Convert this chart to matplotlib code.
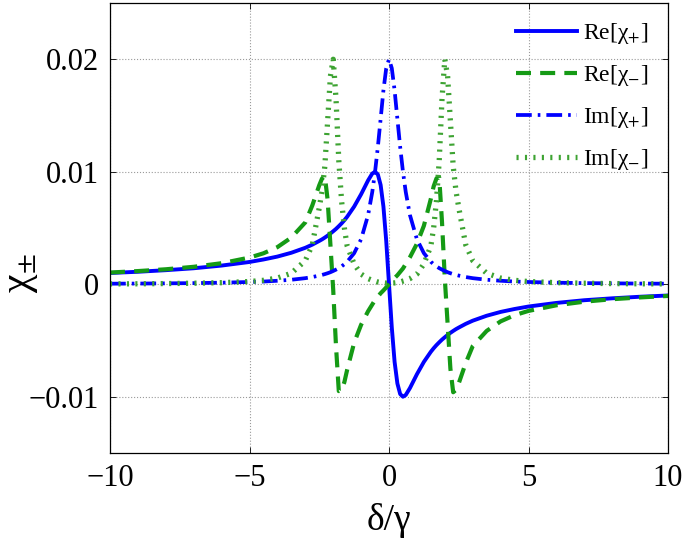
import matplotlib
matplotlib.use('Agg')
import matplotlib.pyplot as plt

# detuning grid (delta / gamma)
delta = [-10, -9, -8, -7, -6, -5, -4.5, -4, -3.5, -3, -2.75, -2.5, -2.4, -2.3,
         -2.2, -2.1, -2, -1.9, -1.8, -1.7, -1.6, -1.5, -1.25, -1, -0.75, -0.6,
         -0.5, -0.4, -0.3, -0.2, -0.1, 0, 0.1, 0.2, 0.3, 0.4, 0.5, 0.6, 0.75,
         1, 1.25, 1.5, 1.6, 1.7, 1.8, 1.9, 2, 2.1, 2.2, 2.3, 2.4, 2.5, 2.75, 3,
         3.5, 4, 4.5, 5, 6, 7, 8, 9, 10]

re_plus = [0.00100, 0.00111, 0.00125, 0.00142, 0.00166, 0.00198, 0.00220,
           0.00246, 0.00280, 0.00324, 0.00352, 0.00385, 0.00399, 0.00415,
           0.00432, 0.00451, 0.00471, 0.00492, 0.00516, 0.00541, 0.00569,
           0.00600, 0.00690, 0.00800, 0.00923, 0.00984, 0.01000, 0.00976,
           0.00882, 0.00690, 0.00385, 0.0,
           -0.00385, -0.00690, -0.00882, -0.00976, -0.01000, -0.00984,
           -0.00923, -0.00800, -0.00690, -0.00600, -0.00569, -0.00541,
           -0.00516, -0.00492, -0.00471, -0.00451, -0.00432, -0.00415,
           -0.00399, -0.00385, -0.00352, -0.00324, -0.00280, -0.00246,
           -0.00220, -0.00198, -0.00166, -0.00142, -0.00125, -0.00111, -0.00100]

re_minus = [0.00104, 0.00117, 0.00133, 0.00155, 0.00187, 0.00237, 0.00275,
            0.00330, 0.00415, 0.00550, 0.00700, 0.00880, 0.00940, 0.00960,
            0.00750, 0.00350, -0.00050, -0.00550, -0.00950, -0.00940, -0.00870,
            -0.00760, -0.00520, -0.00360, -0.00240, -0.00180, -0.00140,
            -0.00110, -0.00080, -0.00055, -0.00028, 0.0,
            0.00028, 0.00055, 0.00080, 0.00110, 0.00140, 0.00180, 0.00240,
            0.00360, 0.00520, 0.00760, 0.00870, 0.00940, 0.00950, 0.00550,
            0.00050, -0.00350, -0.00750, -0.00960, -0.00940, -0.00880,
            -0.00700, -0.00550, -0.00415, -0.00330, -0.00275, -0.00237,
            -0.00187, -0.00155, -0.00133, -0.00117, -0.00104]

im_plus = [0.00005, 0.00006, 0.00008, 0.00010, 0.00014, 0.00020, 0.00024,
           0.00031, 0.00040, 0.00054, 0.00064, 0.00077, 0.00083, 0.00090,
           0.00098, 0.00107, 0.00118, 0.00130, 0.00143, 0.00159, 0.00178,
           0.00200, 0.00276, 0.00400, 0.00615, 0.00820, 0.01000, 0.01220,
           0.01470, 0.01724, 0.01920, 0.02000,
           0.01920, 0.01724, 0.01470, 0.01220, 0.01000, 0.00820, 0.00615,
           0.00400, 0.00276, 0.00200, 0.00178, 0.00159, 0.00143, 0.00130,
           0.00118, 0.00107, 0.00098, 0.00090, 0.00083, 0.00077, 0.00064,
           0.00054, 0.00040, 0.00031, 0.00024, 0.00020, 0.00014, 0.00010,
           0.00008, 0.00006, 0.00005]

im_minus = [0.00003, 0.00004, 0.00006, 0.00009, 0.00014, 0.00024, 0.00035,
            0.00055, 0.00098, 0.00210, 0.00350, 0.00680, 0.00830, 0.01050,
            0.01450, 0.01850, 0.02000, 0.01650, 0.01100, 0.00740, 0.00500,
            0.00340, 0.00180, 0.00090, 0.00050, 0.00035, 0.00028, 0.00020,
            0.00015, 0.00012, 0.00010, 0.00010,
            0.00010, 0.00012, 0.00015, 0.00020, 0.00028, 0.00035, 0.00050,
            0.00090, 0.00180, 0.00340, 0.00500, 0.00740, 0.01100, 0.01650,
            0.02000, 0.01850, 0.01450, 0.01050, 0.00830, 0.00680, 0.00350,
            0.00210, 0.00098, 0.00055, 0.00035, 0.00024, 0.00014, 0.00009,
            0.00006, 0.00004, 0.00003]

labels = ['Re[\u03c7$_{+}$]', 'Re[\u03c7$_{-}$]', 'Im[\u03c7$_{+}$]', 'Im[\u03c7$_{-}$]']
xticks = [-10, -5, 0, 5, 10]
yticks = [-0.01, 0, 0.01, 0.02]
xticklabels = ['\u221210', '\u22125', '0', '5', '10']
yticklabels = ['\u22120.01', '0', '0.01', '0.02']

plt.rcParams['font.family'] = ['Liberation Serif', 'DejaVu Serif']
plt.rcParams['mathtext.fontset'] = 'stix'

fig = plt.figure(figsize=(6.85, 5.42), dpi=100)
ax = fig.add_axes([0.1606, 0.1642, 0.8146, 0.8303])

blue = '#0000ff'
green = '#159a15'
lgreen = '#3da332'

ax.plot(delta, re_plus, color=blue, lw=2.8, label=labels[0])
ax.plot(delta, re_minus, color=green, lw=3.0, dashes=(3.6, 2.2), label=labels[1])
ax.plot(delta, im_plus, color=blue, lw=2.7, dashes=(4.2, 1.6, 0.7, 1.6), label=labels[2])
ax.plot(delta, im_minus, color=lgreen, lw=3.8, dashes=(0.4, 1.2), label=labels[3])

ax.set_xlim(-10, 10)
ax.set_ylim(-0.015, 0.025)
ax.set_xticks(xticks)
ax.set_xticklabels(xticklabels)
ax.set_yticks(yticks)
ax.set_yticklabels(yticklabels)
ax.tick_params(direction='in', length=4, width=0.6, labelsize=22,
               top=True, right=True, pad=8)
ax.grid(True, linestyle=':', color='#9a9a9a', linewidth=0.8)
for s in ax.spines.values():
    s.set_linewidth(0.9)

ax.set_xlabel('\u03b4/\u03b3', fontsize=27)
ax.set_ylabel('\u03c7$_{\\pm}$', fontsize=30)
ax.xaxis.set_label_coords(0.5, -0.112)
ax.yaxis.set_label_coords(-0.125, 0.4)

ax.legend(loc='upper right', bbox_to_anchor=(0.995, 0.997), frameon=False,
          fontsize=17, handlelength=2.6, handletextpad=0.25, labelspacing=0.72,
          borderaxespad=0.3)

fig.savefig('out.png', dpi=100)
